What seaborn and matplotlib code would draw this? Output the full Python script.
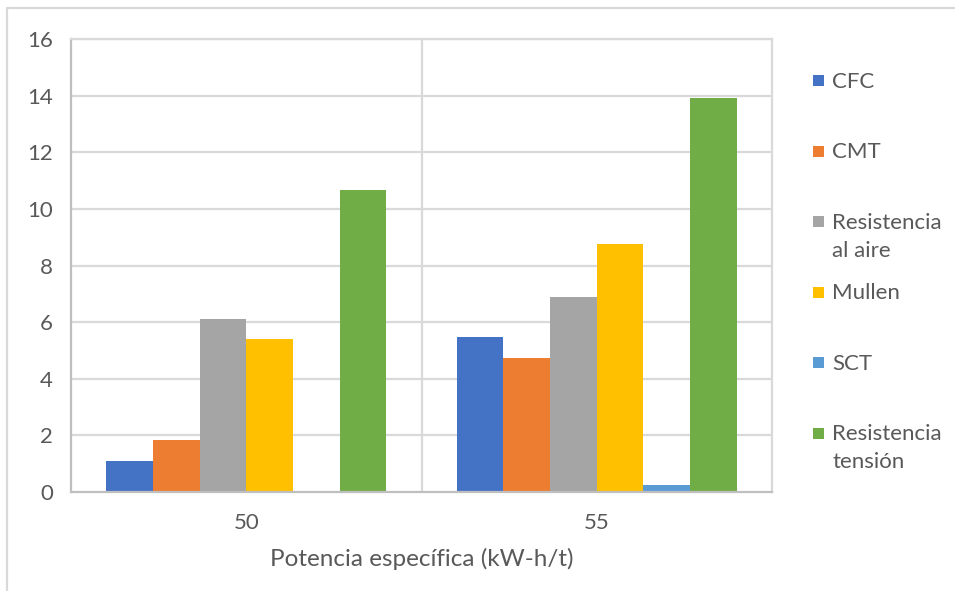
import matplotlib
matplotlib.use("Agg")
import matplotlib.pyplot as plt
from matplotlib.patches import Rectangle
from matplotlib.lines import Line2D
import seaborn as sns
import pandas as pd

# Data
potencia = ["50", "55"]
series = ["CFC", "CMT", "Resistencia al aire", "Mullen", "SCT", "Resistencia tensión"]
legend_labels = ["CFC", "CMT", "Resistencia\nal aire", "Mullen", "SCT", "Resistencia\ntensión"]
valores_50 = [1.11, 1.84, 6.10, 5.42, 0.0, 10.67]
valores_55 = [5.47, 4.75, 6.90, 8.76, 0.26, 13.93]
colores = ["#4472C4", "#ED7D31", "#A5A5A5", "#FFC000", "#5B9BD5", "#70AD47"]
y_ticks = [0, 2, 4, 6, 8, 10, 12, 14, 16]

rows = []
for p, vals in zip(potencia, [valores_50, valores_55]):
    for s, v in zip(series, vals):
        rows.append({"Potencia": p, "Serie": s, "Valor": v})
df = pd.DataFrame(rows)

sns.set_theme(style="white")
plt.rcParams["font.family"] = ["Lato", "DejaVu Sans"]
text_color = "#595959"
grid_color = "#d9d9d9"

W, H = 955, 591
fig = plt.figure(figsize=(W / 100, H / 100), dpi=100)
ax = fig.add_axes([71 / W, (H - 492) / H, (772 - 71) / W, (492 - 39) / H])

sns.barplot(data=df, x="Potencia", y="Valor", hue="Serie", order=potencia,
            hue_order=series, palette=colores, width=0.8, saturation=1,
            linewidth=0, ax=ax, legend=False, zorder=3)

ax.set_xlim(-0.5, 1.5)
ax.set_ylim(0, 16)
ax.set_yticks(y_ticks)
ax.set_yticklabels([str(t) for t in y_ticks])

# Horizontal and category-boundary gridlines
for t in y_ticks[1:]:
    ax.axhline(t, color=grid_color, lw=1.6, zorder=1)
ax.axvline(0.5, color=grid_color, lw=1.6, zorder=1)
for side in ["top", "right"]:
    ax.spines[side].set_color(grid_color)
    ax.spines[side].set_linewidth(1.6)
for side in ["left", "bottom"]:
    ax.spines[side].set_color("#bfbfbf")
    ax.spines[side].set_linewidth(1.6)
ax.spines["bottom"].set_zorder(4)

ax.tick_params(axis="both", length=0, labelsize=16, colors=text_color)
ax.tick_params(axis="y", pad=13)
ax.tick_params(axis="x", pad=15)
ax.set_ylabel("")
ax.set_xlabel("Potencia específica (kW-h/t)", fontsize=17.5, color=text_color, labelpad=11)

# Legend on the right: square aligned with the first line of each label
for i, (lab, col) in enumerate(zip(legend_labels, colores)):
    yc = 80 + i * 70.6
    fig.add_artist(Rectangle((813 / W, (H - yc - 6) / H), 11 / W, 11 / H,
                             facecolor=col, edgecolor="none", transform=fig.transFigure))
    for k, line in enumerate(lab.split("\n")):
        fig.text(832 / W, (H - yc - 7.5 - 28 * k) / H, line, fontsize=16,
                 color=text_color, ha="left", va="baseline",
                 transform=fig.transFigure)

# Chart frame
fig.add_artist(Line2D([7 / W, 7 / W], [0, (H - 8) / H], color=grid_color, lw=1.6,
                      transform=fig.transFigure))
fig.add_artist(Line2D([7 / W, 1], [(H - 8) / H, (H - 8) / H], color=grid_color, lw=1.6,
                      transform=fig.transFigure))

fig.savefig("out.png", dpi=100, facecolor="white")
